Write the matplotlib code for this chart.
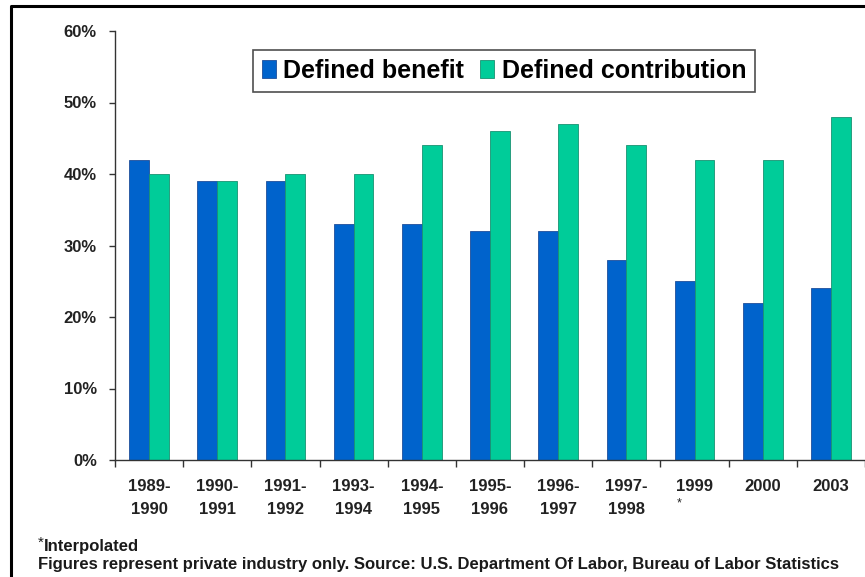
import matplotlib
matplotlib.use("Agg")
import matplotlib.pyplot as plt
import numpy as np
from matplotlib.lines import Line2D
from matplotlib.ticker import FixedLocator, NullFormatter, FuncFormatter

categories = ["1989-\n1990", "1990-\n1991", "1991-\n1992", "1993-\n1994", "1994-\n1995",
              "1995-\n1996", "1996-\n1997", "1997-\n1998", "1999", "2000", "2003"]
defined_benefit = [42, 39, 39, 33, 33, 32, 32, 28, 25, 22, 24]
defined_contribution = [40, 39, 40, 40, 44, 46, 47, 44, 42, 42, 48]
y_ticks = [0, 10, 20, 30, 40, 50, 60]

plt.rcParams['font.family'] = ['Liberation Sans', 'DejaVu Sans']

W, H = 865, 577
fig = plt.figure(figsize=(W / 100, H / 100), dpi=100)
ax = fig.add_axes([115 / W, 1 - 460 / H, 1 - 115 / W, (460 - 31) / H])

n = len(categories)
x = np.arange(n)
bw = 0.29
blue = "#0063CC"
green = "#00CC99"
ax.bar(x - bw / 2, defined_benefit, bw, color=blue, edgecolor="#1f4f9a", linewidth=0.6,
       label="Defined benefit")
ax.bar(x + bw / 2, defined_contribution, bw, color=green, edgecolor="#199272", linewidth=0.6,
       label="Defined contribution")

ax.set_xlim(-0.5, n - 0.5)
ax.set_ylim(0, 60)
for s in ["top", "right"]:
    ax.spines[s].set_visible(False)
for s in ["left", "bottom"]:
    ax.spines[s].set_color("#333333")
    ax.spines[s].set_linewidth(1.0)

ax.set_yticks(y_ticks)
ax.yaxis.set_major_formatter(FuncFormatter(lambda v, p: f"{int(v)}%"))
ax.tick_params(axis="y", direction="out", length=4, width=1, color="#333333",
               labelsize=12, pad=9)
for t in ax.get_yticklabels():
    t.set_fontweight("bold")
    t.set_color("#222222")

ax.xaxis.set_major_locator(FixedLocator(np.arange(-0.5, n, 1.0)))
ax.xaxis.set_major_formatter(NullFormatter())
ax.xaxis.set_minor_locator(FixedLocator(x))
ax.set_xticks(x, categories, minor=True)
ax.tick_params(axis="x", which="major", direction="out", length=5, width=1, color="#333333")
ax.tick_params(axis="x", which="minor", length=0, labelsize=12, pad=14)
for t in ax.get_xticklabels(minor=True):
    t.set_fontweight("bold")
    t.set_color("#222222")
    t.set_linespacing(1.6)
    t.set_verticalalignment("top")

# asterisk under 1999
ax.annotate("*", xy=(8, 0), xycoords="data", xytext=(-11, -31), textcoords="offset points",
            ha="center", va="center", fontsize=9, color="#222222")

leg = ax.legend(loc="upper center", bbox_to_anchor=(504 / W, 1 - 50 / H),
                bbox_transform=fig.transFigure, ncol=2, frameon=True, fancybox=False,
                prop={"size": 18, "weight": "bold"}, handlelength=0.55, handleheight=0.75,
                handletextpad=0.3, columnspacing=0.65, borderpad=0.35, borderaxespad=0)
leg.get_frame().set_edgecolor("#222222")
leg.get_frame().set_linewidth(1.2)

fig.text(38 / W, 1 - 543 / H, "*", fontsize=11, va="center", ha="left", color="#1a1a1a")
fig.text(44 / W, 1 - 546 / H, "Interpolated", fontsize=12, fontweight="bold",
         va="center", ha="left", color="#1a1a1a")
fig.text(38 / W, 1 - 565 / H,
         "Figures represent private industry only. Source: U.S. Department Of Labor, Bureau of Labor Statistics",
         fontsize=12, fontweight="bold", va="center", ha="left", color="#1a1a1a")

# outer frame (left and top edges visible)
fig.add_artist(Line2D([11 / W, 11 / W, 1.0], [0, 1 - 6 / H, 1 - 6 / H],
                      transform=fig.transFigure, color="black", linewidth=2.2))

fig.savefig("out.png", dpi=100)
